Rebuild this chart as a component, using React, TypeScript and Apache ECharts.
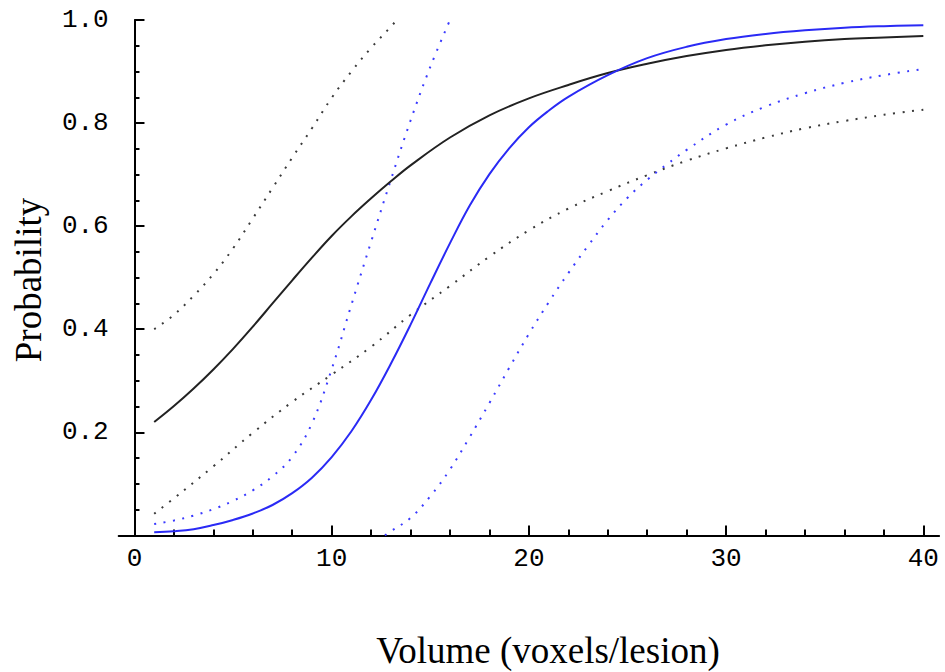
import React, { useEffect, useRef } from "react";
import * as echarts from "echarts";

// ---- data ----
const xMajorTicks = [0, 10, 20, 30, 40];
const xMinorTicks = [2, 4, 6, 8, 12, 14, 16, 18, 22, 24, 26, 28, 32, 34, 36, 38];

const blackSolidX = [1, 2, 3, 4, 5, 6, 7, 8, 9, 10, 11, 12, 13, 14, 16, 18, 20, 22, 24, 26, 28, 30, 32, 34, 36, 38, 40];
const blackSolidY = [0.22, 0.251, 0.285, 0.322, 0.362, 0.405, 0.45, 0.495, 0.539, 0.581, 0.619, 0.654, 0.687, 0.718, 0.772, 0.815, 0.848, 0.874, 0.897, 0.915, 0.93, 0.942, 0.951, 0.958, 0.963, 0.966, 0.969];

const blueSolidX = [1, 2, 3, 4, 5, 6, 7, 8, 9, 10, 11, 12, 13, 14, 15, 16, 17, 18, 19, 20, 21, 22, 24, 26, 28, 30, 32, 34, 36, 38, 40];
const blueSolidY = [0.006, 0.008, 0.012, 0.02, 0.03, 0.0425, 0.059, 0.082, 0.112, 0.152, 0.202, 0.263, 0.333, 0.409, 0.489, 0.567, 0.64, 0.701, 0.751, 0.792, 0.824, 0.851, 0.893, 0.926, 0.948, 0.963, 0.973, 0.98, 0.985, 0.988, 0.99];

const blackUpperX = [1, 2, 3, 4, 5, 6, 7, 8, 9, 10, 11, 12, 13, 13.3];
const blackUpperY = [0.4, 0.428, 0.465, 0.507, 0.557, 0.615, 0.674, 0.733, 0.79, 0.849, 0.9, 0.946, 0.987, 1.0];

const blackLowerX = [1, 2, 4, 6, 8, 10, 12, 14, 16, 18, 20, 22, 24, 26, 28, 30, 32, 34, 36, 38, 40];
const blackLowerY = [0.042, 0.072, 0.134, 0.199, 0.259, 0.312, 0.366, 0.428, 0.484, 0.541, 0.592, 0.634, 0.668, 0.699, 0.727, 0.751, 0.772, 0.79, 0.804, 0.816, 0.826];

const blueUpperX = [1, 2, 3, 4, 5, 6, 7, 8, 9, 10, 11, 12, 13, 14, 15, 16];
const blueUpperY = [0.022, 0.029, 0.0385, 0.051, 0.067, 0.0875, 0.1145, 0.1525, 0.2175, 0.3225, 0.4475, 0.57, 0.69, 0.805, 0.909, 1.0];

const blueLowerX = [12.7, 13, 14, 15, 16, 17, 18, 19, 20, 21, 22, 23, 24, 25, 26, 27, 28, 30, 32, 34, 36, 38, 40];
const blueLowerY = [0, 0.008, 0.034, 0.076, 0.128, 0.191, 0.257, 0.325, 0.391, 0.452, 0.509, 0.562, 0.612, 0.655, 0.69, 0.72, 0.748, 0.797, 0.832, 0.858, 0.878, 0.893, 0.905];

const xTitle = "Volume (voxels/lesion)";
const yTitle = "Probability";

const pairs = (xs: number[], ys: number[]) => xs.map((x, i) => [x, ys[i]]);

const monoFont = "'Liberation Mono', 'DejaVu Sans Mono', monospace";
const serifFont = "'Liberation Serif', 'DejaVu Serif', serif";

export default function App() {
  const ref = useRef<HTMLDivElement>(null);

  useEffect(() => {
    if (!ref.current) return;
    const chart = echarts.init(ref.current, undefined, { renderer: "svg" });

    const line = (data: number[][], color: string, dotted: boolean, width: number) => ({
      type: "line",
      data,
      showSymbol: false,
      smooth: 0.4,
      clip: true,
      silent: true,
      lineStyle: {
        color,
        width,
        type: dotted ? [2, 7.5] : "solid",
      },
    });

    chart.setOption({
      animation: false,
      backgroundColor: "#ffffff",
      grid: {
        left: 118.7,
        top: 20,
        width: 820.4,
        height: 515.4,
        outerBoundsMode: "none",
        containLabel: false,
      },
      xAxis: [
        {
          type: "value",
          min: -0.8,
          max: 40.8,
          position: "bottom",
          axisLine: { show: true, onZero: false, lineStyle: { color: "#000", width: 2 } },
          axisTick: {
            show: true,
            inside: true,
            length: 10,
            customValues: xMajorTicks,
            lineStyle: { color: "#000", width: 2 },
          },
          axisLabel: {
            show: true,
            customValues: xMajorTicks,
            margin: 11,
            color: "#000",
            fontFamily: monoFont,
            fontSize: 26,
            formatter: (v: number) => String(v),
          },
          splitLine: { show: false },
        },
        {
          type: "value",
          min: -0.8,
          max: 40.8,
          position: "bottom",
          axisLine: { show: false, onZero: false },
          axisTick: {
            show: true,
            inside: true,
            length: 6,
            customValues: xMinorTicks,
            lineStyle: { color: "#000", width: 2 },
          },
          axisLabel: { show: false },
          splitLine: { show: false },
        },
      ],
      yAxis: {
        type: "value",
        min: 0,
        max: 1,
        interval: 0.2,
        axisLine: { show: true, onZero: true, onZeroAxisIndex: 0, lineStyle: { color: "#000", width: 2 } },
        axisTick: { show: true, inside: true, length: 10, lineStyle: { color: "#000", width: 2 } },
        minorTick: { show: true, splitNumber: 4, length: 5, lineStyle: { color: "#000", width: 2 } },
        axisLabel: {
          margin: 10,
          color: "#000",
          fontFamily: monoFont,
          fontSize: 26,
          formatter: (v: number) => (v === 0 ? "" : v.toFixed(1)),
        },
        splitLine: { show: false },
      },
      graphic: [
        {
          type: "text",
          x: 548,
          y: 650,
          style: {
            text: xTitle,
            fontFamily: serifFont,
            fontSize: 37,
            fill: "#000",
            align: "center",
            verticalAlign: "middle",
          },
        },
        {
          type: "text",
          x: 28,
          y: 280,
          rotation: Math.PI / 2,
          style: {
            text: yTitle,
            fontFamily: serifFont,
            fontSize: 37,
            fill: "#000",
            align: "center",
            verticalAlign: "middle",
          },
        },
      ],
      series: [
        line(pairs(blackLowerX, blackLowerY), "#3a3a3a", true, 2),
        line(pairs(blackUpperX, blackUpperY), "#3a3a3a", true, 2),
        line(pairs(blueLowerX, blueLowerY), "#3a3aff", true, 2),
        line(pairs(blueUpperX, blueUpperY), "#3a3aff", true, 2),
        line(pairs(blackSolidX, blackSolidY), "#222222", false, 2),
        line(pairs(blueSolidX, blueSolidY), "#2a2af5", false, 2),
      ],
    });

    return () => chart.dispose();
  }, []);

  return (
    <div
      ref={ref}
      style={{ position: "fixed", left: 0, top: 0, width: 945, height: 672, background: "#fff" }}
    />
  );
}
